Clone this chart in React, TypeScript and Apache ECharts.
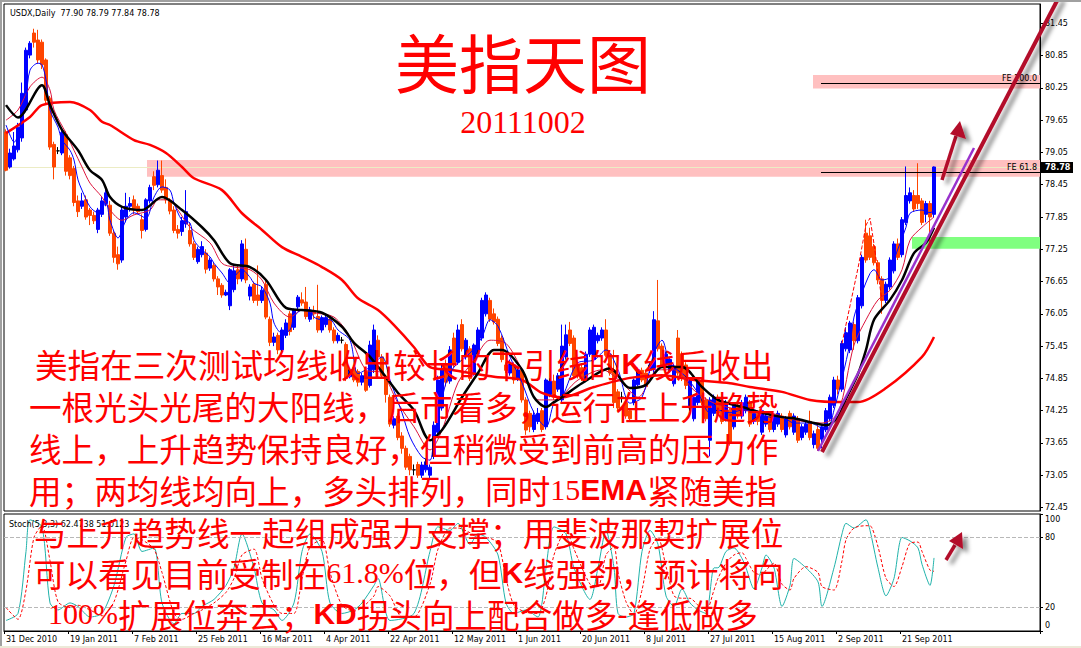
import React, { useEffect, useRef } from "react";
import * as echarts from "echarts";

// ---------- data ----------
// daily candles [open, close, low, high], 31 Dec 2010 .. 30 Sep 2011 (MT4 bars incl. Sunday bars)
const candles: number[][] = [
  [79.43,78.72,78.70,79.48],[78.78,79.04,78.75,79.12],[78.93,79.17,78.90,79.43],[79.10,79.52,79.05,79.60],[79.32,80.15,79.25,80.35],
  [79.84,80.95,79.80,81.00],[80.86,81.08,80.80,81.12],[81.27,81.10,81.00,81.35],[81.14,80.77,80.70,81.33],[81.10,80.68,80.60,81.15],
  [80.77,80.02,79.95,80.80],[80.06,79.15,79.10,80.10],[79.20,78.78,78.55,79.25],[79.08,79.08,79.02,79.15],[79.04,79.42,79.00,79.50],
  [79.38,78.70,78.62,79.45],[78.95,78.62,78.55,79.00],[78.75,78.12,78.05,78.80],[78.15,77.95,77.85,78.25],[78.05,78.15,78.00,78.30],
  [78.17,77.85,77.80,78.25],[77.98,77.88,77.70,78.02],[77.88,77.78,77.72,77.95],[77.62,77.98,77.55,78.02],[77.90,78.15,77.85,78.22],
  [78.10,78.30,78.05,78.40],[78.07,77.55,77.50,78.15],[77.55,77.10,77.00,77.60],[77.15,76.98,76.87,77.30],[77.05,77.98,77.00,78.05],
  [77.85,78.05,77.75,78.30],[78.05,78.10,77.95,78.22],[78.17,77.98,77.90,78.25],[78.05,77.95,77.90,78.10],[77.80,77.60,77.45,77.90],
  [77.62,78.17,77.58,78.20],[78.15,78.40,78.10,78.45],[78.60,78.44,78.35,78.70],[78.45,78.72,78.40,78.90],[78.62,78.35,78.30,78.90],
  [78.40,78.17,78.10,78.55],[78.15,77.96,77.90,78.20],[77.98,77.60,77.55,78.05],[77.62,77.55,77.45,77.70],[77.58,77.78,77.50,77.85],
  [77.72,77.95,77.65,78.35],[77.60,77.35,77.30,77.75],[77.35,77.10,77.05,77.40],[77.02,77.25,76.98,77.30],[77.15,77.30,77.10,77.40],
  [77.18,76.88,76.80,77.25],[76.90,77.05,76.85,77.10],[76.95,76.70,76.65,77.00],[76.70,76.55,76.40,76.75],[76.58,76.40,76.35,76.62],
  [76.40,76.45,76.38,76.50],[76.20,76.87,76.12,76.90],[76.50,76.85,76.45,76.95],[76.87,76.70,76.60,76.95],[76.70,77.35,76.65,77.42],
  [77.25,76.68,76.62,77.45],[76.38,76.55,76.30,76.60],[76.60,76.30,76.25,76.65],[76.40,76.30,76.20,76.95],[76.30,76.49,76.25,76.55],
  [76.60,75.99,75.95,76.70],[75.95,75.52,75.45,76.00],[75.52,75.62,75.45,75.70],[75.65,75.38,75.30,75.70],[75.38,75.75,75.35,75.80],
  [75.65,75.88,75.60,75.95],[76.05,75.72,75.65,76.10],[75.80,76.12,75.75,76.15],[76.18,76.36,76.10,76.40],[76.31,76.25,76.20,76.45],
  [76.27,76.00,75.95,76.55],[75.95,76.12,75.90,76.18],[76.10,76.05,75.95,76.20],[76.00,75.75,75.70,76.59],[75.75,75.98,75.70,76.02],
  [75.85,75.98,75.80,76.05],[75.95,75.75,75.70,76.00],[75.75,75.55,75.50,75.80],[75.55,75.65,75.50,75.70],[75.56,75.56,75.50,75.62],
  [75.48,74.85,74.80,75.52],[74.88,75.01,74.85,75.05],[75.05,74.82,74.78,75.10],[74.98,74.78,74.70,75.02],[74.78,74.90,74.72,74.95],
  [74.98,74.63,74.60,75.05],[74.72,75.47,74.68,75.55],[75.01,75.75,74.95,75.85],[75.56,75.25,75.20,75.65],[75.25,74.90,74.85,75.30],
  [74.85,74.55,74.40,74.90],[74.50,74.00,73.95,74.55],[73.98,74.10,73.92,74.15],[74.15,73.75,73.70,74.20],[73.78,73.55,73.45,73.85],
  [73.55,73.20,73.15,73.60],[73.40,73.15,73.05,73.45],[73.15,73.15,73.05,73.25],[73.25,73.05,73.00,73.30],[73.05,73.24,73.00,73.30],
  [73.15,73.30,73.10,73.35],[73.05,73.20,72.96,73.25],[73.40,73.98,73.35,74.05],[73.85,74.82,73.80,74.90],[74.30,75.01,74.25,75.10],
  [75.12,74.78,74.70,75.20],[74.80,75.38,74.75,75.45],[75.60,75.12,75.05,75.70],[75.15,75.75,75.10,75.85],[75.85,75.40,75.35,75.95],
  [75.25,75.56,75.20,75.60],[75.40,74.85,74.80,75.45],[74.95,75.47,74.90,75.50],[75.30,75.75,75.25,75.80],[75.60,76.30,75.55,76.35],
  [76.05,76.40,76.00,76.45],[76.30,75.95,75.90,76.35],[76.05,75.90,75.85,76.15],[75.95,75.50,75.45,76.00],[75.60,75.20,75.15,75.65],
  [75.10,75.00,74.95,75.15],[74.95,75.12,74.90,75.20],[75.10,74.82,74.75,75.15],[74.85,75.01,74.80,75.08],[75.00,74.45,74.40,75.05],
  [74.45,73.89,73.80,74.50],[74.20,73.95,73.85,74.25],[73.90,74.17,73.85,74.25],[74.05,74.20,74.00,74.30],[74.25,73.90,73.85,74.30],
  [73.95,74.82,73.90,74.85],[74.55,74.80,74.50,74.85],[74.80,74.50,74.45,74.92],[74.65,74.90,74.60,74.95],[74.45,75.45,74.40,75.85],
  [75.25,75.66,75.20,75.85],[75.75,75.50,75.45,75.90],[75.60,74.90,74.85,75.65],[75.10,74.90,74.85,75.15],[75.05,74.85,74.80,75.10],
  [74.82,75.30,74.78,75.35],[75.30,75.75,75.25,75.80],[75.20,75.80,75.15,75.85],[75.55,75.65,75.50,75.70],[75.60,75.75,75.55,75.80],
  [75.75,75.28,75.25,75.95],[75.30,74.95,74.90,75.35],[75.00,74.40,74.30,75.38],[74.60,74.30,74.25,74.65],[74.50,74.50,74.40,74.60],
  [74.40,74.15,74.10,74.45],[74.25,74.10,74.05,74.30],[74.40,74.82,74.35,74.85],[74.73,75.01,74.70,75.05],[75.00,74.82,74.78,75.05],
  [74.95,74.70,74.65,75.00],[75.00,75.10,74.95,75.15],[75.01,75.94,74.95,76.10],[75.92,75.40,75.35,76.68],[75.45,75.10,75.05,75.50],
  [75.10,75.30,75.05,75.35],[75.00,75.20,74.95,75.25],[74.75,75.08,74.70,75.12],[75.60,74.95,74.90,75.75],[75.30,74.85,74.80,75.35],
  [75.10,74.72,74.65,75.15],[74.30,74.82,74.25,74.85],[74.10,74.50,74.05,74.55],[74.40,74.82,74.35,74.85],[74.80,74.40,74.35,74.85],
  [74.45,74.10,74.05,74.50],[73.70,74.45,73.40,74.50],[74.20,74.50,74.15,74.55],[74.50,74.20,74.15,74.55],[74.40,74.05,74.00,74.45],
  [74.08,74.38,74.05,74.45],[74.26,73.65,73.60,74.30],[73.95,74.35,73.90,74.40],[74.35,74.15,74.10,74.40],[74.15,74.40,74.10,74.45],
  [74.25,74.50,74.20,74.55],[74.40,74.00,73.95,74.45],[74.05,74.20,74.00,74.25],[74.20,74.05,73.98,74.25],[73.85,74.25,73.80,74.30],
  [74.00,74.15,73.95,74.20],[74.15,73.90,73.85,74.20],[73.90,74.15,73.85,74.20],[74.00,74.20,73.95,74.25],[74.15,73.90,73.85,74.20],
  [73.80,74.10,73.75,74.15],[74.20,73.95,73.90,74.25],[73.85,74.15,73.80,74.20],[74.10,73.70,73.65,74.15],[73.75,73.95,73.70,74.00],
  [73.85,74.00,73.80,74.05],[74.05,73.75,73.70,74.25],[73.62,73.82,73.55,73.88],[73.90,73.55,73.50,74.00],[73.72,73.95,73.55,74.00],
  [73.90,74.25,73.85,74.30],[74.10,74.50,74.05,74.55],[74.35,74.82,74.30,74.88],[74.82,74.65,74.55,74.90],[74.65,75.50,74.60,75.55],
  [75.40,75.70,75.35,75.80],[75.38,75.88,75.32,75.92],[75.85,75.55,75.38,75.90],[75.55,76.35,75.50,76.40],[76.20,77.10,76.15,77.15],
  [77.55,77.05,77.00,77.80],[77.50,77.10,77.05,77.65],[77.30,77.00,76.95,77.35],[77.00,76.68,76.60,77.05],[76.70,76.30,76.05,76.75],
  [76.30,76.60,76.25,76.65],[76.55,77.05,76.50,77.10],[76.85,77.35,76.80,77.40],[77.35,77.10,77.05,77.45],[77.15,77.80,77.10,77.85],
  [77.75,78.25,77.70,78.79],[78.15,78.30,78.10,78.40],[78.25,78.00,77.95,78.35],[78.25,78.10,78.00,78.85],[78.15,77.75,77.70,78.20],
  [77.90,78.10,77.75,78.15],[78.10,77.85,77.30,78.15],[77.90,78.78,77.84,78.79],
];

// moving averages: [bar index, value]
const emaFast: number[][] = [
  [0,79.56],[2,79.24],[5,80.1],[6,80.58],[8,80.71],[9,80.68],[10,80.40],[11,79.84],[13,79.52],[14,79.28],[16,79.09],[17,78.91],[18,78.54],[19,78.35],
  [21,78.04],[23,77.93],[25,78.11],[26,77.79],[28,77.46],[30,77.79],[32,77.93],[35,77.83],[37,78.22],[39,78.41],[41,78.35],[42,78.11],[44,77.79],
  [46,77.74],[47,77.42],[49,77.24],[51,77.11],[52,76.99],[54,76.81],[56,76.62],[57,76.73],[59,76.87],[61,76.73],[62,76.62],[64,76.55],[66,76.25],
  [67,75.88],[69,75.69],[71,75.75],[72,75.99],[74,76.12],[76,76.12],[77,75.99],[79,75.94],[81,75.94],[83,75.75],[86,75.56],[88,74.94],[91,75.06],
  [94,75.25],[96,74.82],[99,74.21],[101,73.76],[104,73.39],[106,73.33],[107,73.76],[110,74.77],[112,75.06],[116,75.32],[119,75.62],[121,75.94],
  [123,75.82],[126,75.25],[129,74.77],[132,74.21],[135,73.95],[137,74.39],[139,74.50],[143,75.14],[147,75.19],[150,75.38],[153,75.01],[156,74.39],
  [159,74.50],[162,75.32],[164,75.56],[166,75.14],[170,74.88],[173,74.58],[176,74.21],[178,74.26],[181,74.21],[184,74.26],[187,74.26],[191,74.13],
  [194,74.13],[197,74.02],[201,74.02],[205,73.89],[207,74.26],[211,75.50],[212,75.99],[214,76.44],[216,76.80],[217,76.87],[219,76.68],[221,76.73],
  [222,77.05],[225,77.66],[226,77.92],[229,77.98],[231,77.93],[232,77.98],
];
const emaMid: number[][] = [
  [0,79.65],[3,79.84],[6,80.27],[9,80.45],[11,80.21],[12,79.84],[15,79.41],[17,79.09],[19,78.78],[21,78.48],[24,78.22],[26,77.98],[29,77.79],
  [32,77.89],[36,77.98],[38,78.17],[41,78.17],[43,77.98],[46,77.66],[51,77.37],[54,76.99],[57,76.92],[61,76.87],[64,76.68],[67,76.25],[71,75.99],
  [74,76.12],[77,76.07],[82,75.99],[86,75.62],[90,75.01],[94,74.95],[98,74.39],[102,73.95],[106,73.52],[109,73.89],[113,74.77],[117,75.19],
  [121,75.56],[125,75.50],[129,75.01],[133,74.45],[137,74.45],[143,74.82],[149,75.01],[154,74.77],[158,74.50],[163,75.01],[167,75.01],[172,74.63],
  [177,74.39],[184,74.26],[191,74.21],[197,74.08],[204,74.02],[208,74.21],[212,75.47],[215,75.94],[218,76.31],[221,76.49],[224,76.87],[226,77.42],
  [229,77.66],[232,77.85],
];
const ema15: number[][] = [
  [0,79.93],[3,79.70],[9,80.30],[11,79.93],[14,79.47],[18,79.09],[21,78.72],[24,78.54],[26,78.22],[29,78.04],[34,77.98],[39,78.22],[44,77.98],
  [49,77.66],[52,77.42],[56,76.99],[61,76.92],[65,76.68],[70,76.16],[74,76.12],[79,76.07],[84,75.81],[87,75.51],[91,75.25],[98,74.58],[102,74.26],
  [106,73.70],[109,73.89],[114,74.50],[118,74.95],[122,75.38],[124,75.38],[129,75.01],[132,74.50],[135,74.32],[137,74.41],[139,74.50],[144,74.76],
  [151,75.04],[156,74.67],[160,74.73],[164,75.06],[169,75.06],[174,74.69],[178,74.45],[184,74.32],[189,74.21],[194,74.13],[197,74.11],[202,74.02],
  [205,73.98],[208,74.13],[210,74.47],[213,74.93],[215,75.38],[217,75.94],[221,76.31],[224,76.68],[227,77.18],[230,77.37],[232,77.65],
];
const maSlow: number[][] = [
  [0,79.41],[6,79.71],[9,79.93],[16,79.99],[21,79.84],[24,79.62],[26,79.56],[32,79.28],[36,79.19],[40,79.04],[44,78.78],[47,78.57],[54,78.35],
  [59,77.92],[64,77.61],[69,77.29],[74,77.11],[79,76.92],[84,76.68],[88,76.34],[93,76.12],[97,75.84],[102,75.43],[106,75.06],[111,75.01],
  [116,74.95],[122,74.88],[129,74.82],[134,74.58],[139,74.50],[147,74.69],[156,74.86],[164,74.91],[172,74.82],[181,74.76],[186,74.69],[194,74.60],
  [201,74.45],[209,74.41],[213,74.41],[220,74.67],[229,75.25],[232,75.62],
];
const rallyEnvelope: number[][] = [
  [209,75.5],[211,76.2],[213,76.9],[214,77.3],[215,77.7],[216,77.83],[217,77.35],[218,76.8],[219,76.3],
];

// Stochastic %K and %D
const stochK: number[][] = [
  [0,9],[3,15],[5,68],[6,95],[9,89],[11,24],[13,18],[16,24],[18,21],[21,12],[24,15],[27,39],[30,80],[32,83],[34,68],[37,71],[39,24],[42,6],
  [44,15],[47,15],[49,21],[52,27],[55,39],[57,54],[59,83],[62,54],[64,24],[67,18],[69,9],[72,24],[74,68],[76,83],[79,68],[81,24],[84,15],[87,18],
  [89,24],[92,39],[93,45],[96,9],[102,15],[106,68],[108,89],[111,86],[113,92],[116,74],[118,83],[120,80],[123,65],[125,24],[127,15],[130,18],
  [133,12],[134,24],[135,54],[137,89],[140,83],[142,54],[146,27],[148,54],[150,86],[152,54],[153,15],[155,12],[157,15],[159,68],[161,86],[163,74],
  [165,30],[167,21],[169,36],[171,24],[173,18],[175,15],[177,54],[178,54],[180,68],[182,71],[184,62],[185,54],[187,36],[189,54],[190,65],[192,54],
  [194,21],[196,39],[197,62],[200,54],[203,42],[204,21],[207,54],[209,83],[210,92],[212,88],[215,95],[216,86],[218,54],[220,30],[222,45],[224,80],
  [226,77],[228,71],[229,57],[231,39],[232,62.47],
];
const stochD: number[][] = [
  [0,20],[3,10],[5,35],[7,80],[9,90],[11,60],[13,25],[16,20],[18,22],[21,18],[24,13],[27,25],[30,60],[32,80],[34,78],[37,70],[39,50],[42,15],
  [44,10],[47,15],[49,18],[52,24],[55,33],[57,45],[59,65],[62,70],[64,45],[67,22],[69,15],[72,15],[74,45],[76,72],[79,78],[81,50],[84,22],[87,17],
  [89,20],[92,30],[93,38],[96,30],[99,12],[102,12],[106,40],[108,70],[111,88],[113,88],[116,84],[118,80],[120,80],[123,75],[125,45],[127,22],
  [130,16],[133,15],[135,30],[137,65],[140,86],[142,70],[146,40],[148,38],[150,65],[152,72],[153,50],[155,25],[157,14],[159,35],[161,70],[163,80],
  [165,55],[167,30],[169,28],[171,28],[173,22],[175,17],[177,35],[178,45],[180,58],[182,65],[184,67],[185,62],[187,50],[189,48],[190,52],[192,58],
  [194,40],[196,35],[197,45],[200,55],[203,50],[204,38],[207,35],[209,60],[210,78],[212,88],[215,90],[216,90],[218,72],[220,45],[222,38],[224,55],
  [226,75],[228,76],[229,68],[231,52],[232,51.01],
];

const tickLabels = [
  "31 Dec 2010", "19 Jan 2011", "7 Feb 2011", "25 Feb 2011", "16 Mar 2011", "4 Apr 2011", "22 Apr 2011", "12 May 2011",
  "1 Jun 2011", "20 Jun 2011", "8 Jul 2011", "27 Jul 2011", "15 Aug 2011", "2 Sep 2011", "21 Sep 2011",
];
const priceTicks = [72.45, 73.05, 73.65, 74.25, 74.85, 75.45, 76.05, 76.65, 77.25, 77.85, 78.45, 79.05, 79.65, 80.25, 80.85, 81.45];
const stochTicks = [0, 20, 80, 100];
const stochLevels = [20, 80];

const feLevels = [
  { name: "FE 61.8", top: 78.91, bottom: 78.6, line: 78.69 },
  { name: "FE 100.0", top: 80.49, bottom: 80.24, line: 80.35 },
];
const supportZone = { top: 77.48, bottom: 77.26 };
const lastPrice = 78.78;
const header = "USDX,Daily  77.90 78.79 77.84 78.78";
const stochHeader = "Stoch(5,3,3) 62.4738 51.0123";
const title = "美指天图";
const dateText = "20111002";
const commentLines = [
  "美指在三次测试均线收出较长的下引线的{k|K}线后收出",
  "一根光头光尾的大阳线，后市看多，运行在上升趋势",
  "线上，上升趋势保持良好，但稍微受到前高的压力作",
  "用；两均线均向上，多头排列，同时{n|15}{k|EMA}紧随美指",
  "与上升趋势线一起组成强力支撑；用斐波那契扩展位",
  "可以看见目前受制在{n|61.8%}位，但{k|K}线强劲，预计将向",
  "{n|100%}扩展位奔去；{k|KD}拐头向上配合做多{n|-}逢低做多",
];

const SLOT_COUNT = 259;

export default function App() {
  const ref = useRef<HTMLDivElement>(null);
  useEffect(() => {
    const chart = echarts.init(ref.current!, null, { renderer: "svg" });
    const slots = Array.from({ length: SLOT_COUNT }, (_, i) => String(i));
    const tickShown = (i: number) => i % 16 === 0 && i / 16 < tickLabels.length;
    const AX = "DejaVu Sans";
    const axisText = { fontFamily: AX, fontSize: 8, color: "#000" };
    const maLine = (data: number[][], color: string, width: number, extra: any = {}) => ({
      type: "line",
      xAxisIndex: 0,
      yAxisIndex: 0,
      data,
      symbol: "none",
      smooth: 0.3,
      z: 3,
      lineStyle: { color, width, ...extra },
      silent: true,
    });

    chart.setOption({
      animation: false,
      backgroundColor: "#ffffff",
      grid: [
        { left: 4, top: 4, width: 1036, height: 507, show: true, borderColor: "#000", borderWidth: 1, backgroundColor: "transparent" },
        { left: 4, top: 514, width: 1036, height: 117, show: true, borderColor: "#000", borderWidth: 1, backgroundColor: "transparent" },
      ],
      xAxis: [
        { type: "category", gridIndex: 0, data: slots, boundaryGap: true, axisLine: { show: false }, axisTick: { show: false }, axisLabel: { show: false } },
        {
          type: "category",
          gridIndex: 1,
          data: slots,
          boundaryGap: true,
          axisLine: { show: true, lineStyle: { color: "#000" } },
          axisTick: { show: true, interval: (i: number) => tickShown(i), length: 3, lineStyle: { color: "#000" } },
          axisLabel: {
            ...axisText,
            interval: (i: number) => tickShown(i),
            formatter: (_v: string, i: number) => tickLabels[i / 16] ?? "",
            align: "left",
            margin: 4,
          },
        },
      ],
      yAxis: [
        {
          type: "value",
          gridIndex: 0,
          position: "right",
          min: 72.385,
          max: 81.81,
          splitLine: { show: false },
          axisLine: { show: true, lineStyle: { color: "#000" } },
          axisTick: { show: true, length: 3, customValues: priceTicks, lineStyle: { color: "#000" } },
          axisLabel: { ...axisText, customValues: priceTicks, formatter: (v: number) => v.toFixed(2), margin: 5 },
        },
        {
          type: "value",
          gridIndex: 1,
          position: "right",
          min: 0,
          max: 100,
          splitLine: { show: false },
          axisLine: { show: true, lineStyle: { color: "#000" } },
          axisTick: { show: true, length: 3, customValues: stochTicks, lineStyle: { color: "#000" } },
          axisLabel: {
            ...axisText,
            customValues: stochTicks,
            margin: 5,
            formatter: (v: number) => (v === 100 ? "{t|100}" : v === 0 ? "{b|0}" : String(v)),
            rich: {
              t: { fontFamily: AX, fontSize: 8, color: "#000", padding: [11, 0, 0, 0] },
              b: { fontFamily: AX, fontSize: 8, color: "#000", padding: [0, 0, 11, 0] },
            },
          },
        },
      ],
      series: [
        {
          type: "candlestick",
          xAxisIndex: 0,
          yAxisIndex: 0,
          data: candles,
          barWidth: 3,
          z: 2,
          silent: true,
          itemStyle: {
            color: "#0000ff",
            color0: "#ff4500",
            borderColor: "#0000ff",
            borderColor0: "#ff4500",
            borderColorDoji: "#000000",
            borderWidth: 1,
          },
        },
        maLine(maSlow, "#ff0000", 2.5),
        maLine(emaMid, "#dc143c", 1),
        maLine(emaFast, "#0000ff", 1),
        maLine(ema15, "#000000", 2.5),
        { ...maLine(rallyEnvelope, "#ff0000", 1, { type: "dashed" }), smooth: false },
        {
          type: "line",
          xAxisIndex: 1,
          yAxisIndex: 1,
          data: stochK,
          symbol: "none",
          smooth: 0.25,
          silent: true,
          lineStyle: { color: "#20b2aa", width: 1 },
          markLine: {
            silent: true,
            symbol: "none",
            label: { show: false },
            lineStyle: { color: "#b8b8b8", type: "dashed", width: 1 },
            data: stochLevels.map((v) => ({ yAxis: v })),
          },
        },
        {
          type: "line",
          xAxisIndex: 1,
          yAxisIndex: 1,
          data: stochD,
          symbol: "none",
          smooth: 0.25,
          silent: true,
          lineStyle: { color: "#ff0000", width: 1, type: [3, 2] },
        },
      ],
    });

    const py = (v: number) => chart.convertToPixel({ yAxisIndex: 0 }, v) as number;
    const RIGHT = 1040;
    const DARKRED = "#b3112b";
    const shadow = { shadowBlur: 4, shadowColor: "rgba(0,0,0,0.45)", shadowOffsetX: 5, shadowOffsetY: 4 };
    const CJK = "Noto Sans CJK SC";
    const richParts = {
      k: { fontFamily: "Liberation Sans", fontWeight: "bold", fontSize: 30, fill: "#ff0000", lineHeight: 30 },
      n: { fontFamily: "Liberation Serif", fontSize: 30, fill: "#ff0000", lineHeight: 30 },
    };
    const lineStarts = [35, 29, 29, 29, 34, 33, 48];
    const lineYs = [363, 405, 447, 489, 531, 572, 613];

    const graphic: any[] = [
      // window frame
      { type: "rect", z: 60, silent: true, shape: { x: 0, y: 0, width: 1081, height: 2 }, style: { fill: "#a0a0a0" } },
      { type: "rect", z: 60, silent: true, shape: { x: 0, y: 0, width: 2, height: 648 }, style: { fill: "#a0a0a0" } },
      { type: "rect", z: 60, silent: true, shape: { x: 0, y: 646, width: 1081, height: 2 }, style: { fill: "#ece9d8" } },
      // zones behind candles
      {
        type: "rect", z: 1, silent: true,
        shape: { x: 147, y: py(feLevels[0].top), width: RIGHT - 147, height: py(feLevels[0].bottom) - py(feLevels[0].top) },
        style: { fill: "#ffc0c0" },
      },
      {
        type: "rect", z: 1, silent: true,
        shape: { x: 813, y: py(feLevels[1].top), width: RIGHT - 813, height: py(feLevels[1].bottom) - py(feLevels[1].top) },
        style: { fill: "#ffc0c0" },
      },
      {
        type: "rect", z: 1, silent: true,
        shape: { x: 912, y: py(supportZone.top), width: RIGHT - 912, height: py(supportZone.bottom) - py(supportZone.top) },
        style: { fill: "#80ff80" },
      },
      {
        type: "line", z: 1, silent: true,
        shape: { x1: 5, y1: Math.round(py(lastPrice)) + 0.5, x2: RIGHT, y2: Math.round(py(lastPrice)) + 0.5 },
        style: { stroke: "#ececc4", lineWidth: 1 },
      },
      ...feLevels.flatMap((f) => [
        {
          type: "line", z: 4, silent: true,
          shape: { x1: 821, y1: Math.round(py(f.line)) + 0.5, x2: RIGHT, y2: Math.round(py(f.line)) + 0.5 },
          style: { stroke: "#000", lineWidth: 1 },
        },
        {
          type: "text", z: 4, silent: true, x: 1037, y: Math.round(py(f.line)) - 1,
          style: { text: f.name, fontFamily: AX, fontSize: 8, fill: "#000", align: "right", verticalAlign: "bottom" },
        },
      ]),
      // last price tag
      {
        type: "rect", z: 20, silent: true,
        shape: { x: 1041, y: py(lastPrice) - 5, width: 32, height: 11 },
        style: { fill: "#000" },
      },
      {
        type: "text", z: 21, silent: true, x: 1045, y: py(lastPrice) + 0.5,
        style: { text: lastPrice.toFixed(2), fontFamily: AX, fontSize: 8, fontWeight: "bold", fill: "#fff", verticalAlign: "middle" },
      },
      // headers
      {
        type: "text", z: 20, silent: true, x: 10, y: 13,
        style: { text: header, fontFamily: AX, fontSize: 8, fill: "#000", verticalAlign: "middle" },
      },
      {
        type: "text", z: 20, silent: true, x: 9, y: 524,
        style: { text: stochHeader, fontFamily: AX, fontSize: 8, fill: "#000", verticalAlign: "middle" },
      },
      // title
      {
        type: "text", z: 30, silent: true, x: 523, y: 60,
        style: { text: title, fontFamily: CJK, fontSize: 64, fill: "#ff0000", align: "center", verticalAlign: "middle" },
      },
      {
        type: "text", z: 30, silent: true, x: 523, y: 122,
        style: { text: dateText, fontFamily: "Liberation Serif", fontSize: 32, fill: "#ff0000", align: "center", verticalAlign: "middle" },
      },
      // trend lines and arrows
      {
        type: "line", z: 40, silent: true,
        shape: { x1: 818, y1: 451, x2: 974, y2: 148 },
        style: { stroke: "#9932cc", lineWidth: 2.5 },
      },
      {
        type: "line", z: 41, silent: true,
        shape: { x1: 822, y1: 452, x2: 1059, y2: -3 },
        style: { stroke: DARKRED, lineWidth: 4, ...shadow },
      },
      {
        type: "line", z: 41, silent: true,
        shape: { x1: 942, y1: 180, x2: 956, y2: 136 },
        style: { stroke: DARKRED, lineWidth: 3.5, ...shadow },
      },
      {
        type: "polygon", z: 41, silent: true,
        shape: { points: [[960, 121], [950, 134], [966, 139]] },
        style: { fill: DARKRED, ...shadow },
      },
      {
        type: "line", z: 41, silent: true,
        shape: { x1: 946, y1: 560, x2: 955, y2: 545 },
        style: { stroke: DARKRED, lineWidth: 3.5, ...shadow },
      },
      {
        type: "polygon", z: 41, silent: true,
        shape: { points: [[962, 532], [949, 541], [963, 549]] },
        style: { fill: DARKRED, ...shadow },
      },
      // commentary
      ...commentLines.map((t, i) => ({
        type: "text", z: 50, silent: true, x: lineStarts[i], y: lineYs[i],
        style: {
          text: t, fontFamily: CJK, fontSize: 32.6, lineHeight: 30, fill: "#ff0000", verticalAlign: "middle", rich: richParts,
        },
      })),
    ];
    chart.setOption({ graphic });

    return () => chart.dispose();
  }, []);
  return (
    <div
      ref={ref}
      style={{ position: "absolute", left: 0, top: 0, width: 1081, height: 648, background: "#fff" }}
    />
  );
}
